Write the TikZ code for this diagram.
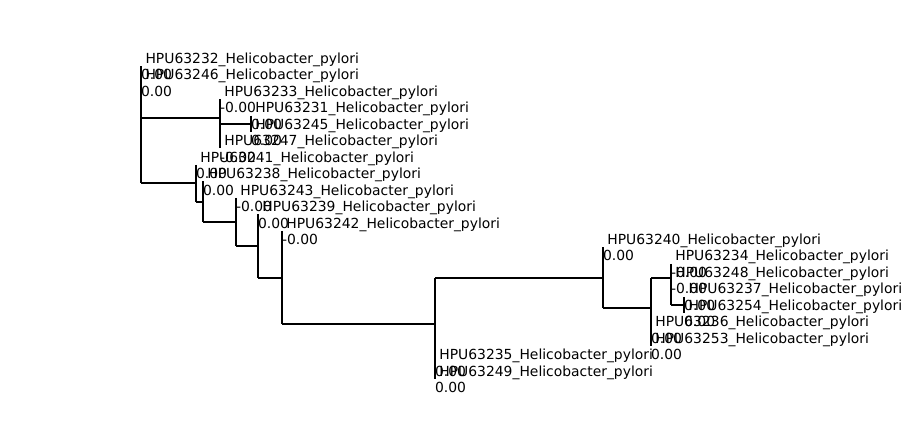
\documentclass[tikz,border=0pt]{standalone}
\usepackage{fontspec}
\setmainfont{DejaVu Sans}
\newcommand{\ry}[1]{49.62+16.48*(#1)}
\tikzset{
  br/.style={line width=2.08pt, line cap=butt, black},
  namelbl/.style={anchor=base west, inner sep=0pt, outer sep=0pt, xshift=4.42pt, yshift=2.89pt},
  brlbl/.style={anchor=base west, inner sep=0pt, outer sep=0pt, yshift=-13.59pt},
  every node/.style={font=\fontsize{13.89pt}{16pt}\selectfont, text=black}
}
\newcommand{\mkleaf}[5]{%
  \coordinate (#1) at (#2,{\ry{#3}});
  \node[namelbl] (#1n) at (#1) {#4};
  \node[brlbl] (#1b) at (#1) {#5};
}
\begin{document}
\begin{tikzpicture}[x=1pt,y=-1pt]
\useasboundingbox[fill=white] (0,0) rectangle (911,441);
% leaves
\mkleaf{T1}{141.1}{1}{HPU63232\_Helicobacter\_pylori}{0.00}
\mkleaf{T2}{141.1}{2}{HPU63246\_Helicobacter\_pylori}{0.00}
\mkleaf{T3}{220}{3}{HPU63233\_Helicobacter\_pylori}{-0.00}
\mkleaf{T4}{251}{4}{HPU63231\_Helicobacter\_pylori}{0.00}
\mkleaf{T5}{251}{5}{HPU63245\_Helicobacter\_pylori}{0.00}
\mkleaf{T6}{220}{6}{HPU63247\_Helicobacter\_pylori}{-0.00}
\mkleaf{T7}{196}{7}{HPU63241\_Helicobacter\_pylori}{0.00}
\mkleaf{T8}{203}{8}{HPU63238\_Helicobacter\_pylori}{0.00}
\mkleaf{T9}{236}{9}{HPU63243\_Helicobacter\_pylori}{-0.00}
\mkleaf{T10}{258}{10}{HPU63239\_Helicobacter\_pylori}{0.00}
\mkleaf{T11}{282}{11}{HPU63242\_Helicobacter\_pylori}{-0.00}
\mkleaf{T12}{603}{12}{HPU63240\_Helicobacter\_pylori}{0.00}
\mkleaf{T13}{671}{13}{HPU63234\_Helicobacter\_pylori}{-0.00}
\mkleaf{T14}{671}{14}{HPU63248\_Helicobacter\_pylori}{-0.00}
\mkleaf{T15}{684.2}{15}{HPU63237\_Helicobacter\_pylori}{0.00}
\mkleaf{T16}{684.2}{16}{HPU63254\_Helicobacter\_pylori}{0.00}
\mkleaf{T17}{651}{17}{HPU63236\_Helicobacter\_pylori}{0.00}
\mkleaf{T18}{651}{18}{HPU63253\_Helicobacter\_pylori}{0.00}
\mkleaf{T19}{435}{19}{HPU63235\_Helicobacter\_pylori}{0.00}
\mkleaf{T20}{435}{20}{HPU63249\_Helicobacter\_pylori}{0.00}
% internal nodes
\coordinate (C) at (251,{\ry{4.5}});
\coordinate (D) at (220,{\ry{5.25}});
\coordinate (B) at (220,{\ry{4.125}});
\coordinate (U) at (684.2,{\ry{15.5}});
\coordinate (V) at (671,{\ry{14.75}});
\coordinate (Q) at (671,{\ry{13.875}});
\coordinate (S) at (651,{\ry{17.5}});
\coordinate (P) at (651,{\ry{15.6875}});
\coordinate (L) at (603,{\ry{13.84375}});
\coordinate (N) at (435,{\ry{19.5}});
\coordinate (K) at (435,{\ry{16.671875}});
\coordinate (J) at (282,{\ry{13.8359375}});
\coordinate (I) at (258,{\ry{11.91797}});
\coordinate (H) at (236,{\ry{10.45898}});
\coordinate (G) at (203,{\ry{9.22949}});
\coordinate (F) at (196,{\ry{8.114746}});
\coordinate (R3) at (141.1,{\ry{6.119873}});
\coordinate (R2) at (141.1,{\ry{4.0599}});
\coordinate (R) at (141.1,{\ry{2.53}});
% vertical lines
\draw[br] (R |- T1) -- (R |- R2);
\draw[br] (R2 |- T2) -- (R2 |- R3);
\draw[br] (R3 |- B) -- (R3 |- F);
\draw[br] (B |- T3) -- (B |- D);
\draw[br] (D |- C) -- (D |- T6);
\draw[br] (C |- T4) -- (C |- T5);
\draw[br] (F |- T7) -- (F |- G);
\draw[br] (G |- T8) -- (G |- H);
\draw[br] (H |- T9) -- (H |- I);
\draw[br] (I |- T10) -- (I |- J);
\draw[br] (J |- T11) -- (J |- K);
\draw[br] (K |- L) -- (K |- N);
\draw[br] (N |- T19) -- (N |- T20);
\draw[br] (L |- T12) -- (L |- P);
\draw[br] (P |- Q) -- (P |- S);
\draw[br] (S |- T17) -- (S |- T18);
\draw[br] (Q |- T13) -- (Q |- V);
\draw[br] (V |- T14) -- (V |- U);
\draw[br] (U |- T15) -- (U |- T16);
% horizontal lines
\draw[br] (R |- B) -- (B);
\draw[br] (R3 |- F) -- (F);
\draw[br] (D |- C) -- (C);
\draw[br] (F |- G) -- (G);
\draw[br] (G |- H) -- (H);
\draw[br] (H |- I) -- (I);
\draw[br] (I |- J) -- (J);
\draw[br] (J |- K) -- (K);
\draw[br] (K |- L) -- (L);
\draw[br] (L |- P) -- (P);
\draw[br] (P |- Q) -- (Q);
\draw[br] (V |- U) -- (U);
\end{tikzpicture}
\end{document}
